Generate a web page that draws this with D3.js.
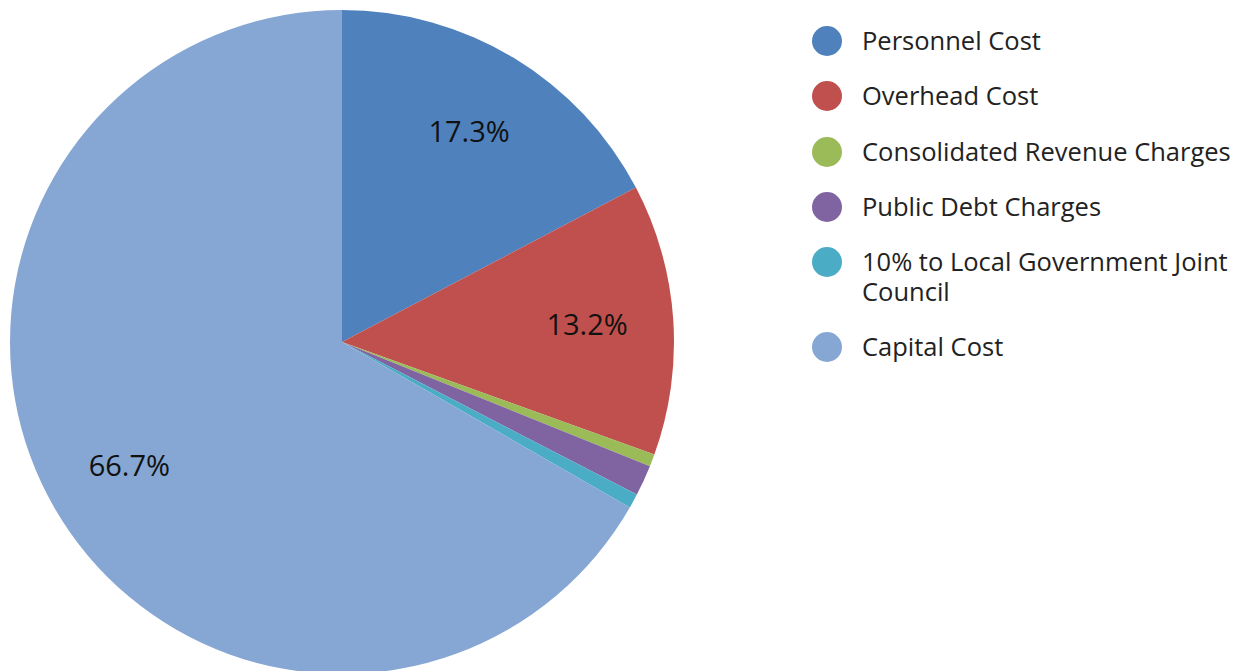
<!DOCTYPE html>
<html>
<head>
<meta charset="utf-8">
<script src="https://cdn.jsdelivr.net/npm/d3@7"></script>
<style>
  body { margin: 0; background: #fff; }
  text { font-family: "Open Sans", "Noto Sans", sans-serif; }
</style>
</head>
<body>
<svg width="1258" height="671"></svg>
<script>
// data
const categories = ["Personnel Cost", "Overhead Cost", "Consolidated Revenue Charges",
  "Public Debt Charges", "10% to Local Government Joint Council", "Capital Cost"];
const values = [17.3, 13.2, 0.6, 1.5, 0.7, 66.7];
const colors = ["#4f81bd", "#c0504d", "#9bbb59", "#8064a2", "#4bacc6", "#86a7d3"];
const shownLabels = ["17.3%", "13.2%", null, null, null, "66.7%"];
const legendLines = [["Personnel Cost"], ["Overhead Cost"], ["Consolidated Revenue Charges"],
  ["Public Debt Charges"], ["10% to Local Government Joint", "Council"], ["Capital Cost"]];

var svg = d3.select("svg"),
  cx = 342, cy = 342, radius = 332;

var g = svg.append("g").attr("transform", "translate(" + cx + "," + cy + ")");

var pie = d3.pie().sort(null).value(function(d) { return d; });
var arcs = pie(values);
var arc = d3.arc().innerRadius(0).outerRadius(radius);

g.selectAll("path")
  .data(arcs)
  .enter().append("path")
  .attr("d", arc)
  .attr("fill", function(d, i) { return colors[i]; });

// percent labels sit about 3/4 of the way out
var labelArc = d3.arc().innerRadius(radius * 0.74).outerRadius(radius * 0.74);
g.selectAll("text.pct")
  .data(arcs.filter(function(d, i) { return shownLabels[i]; }))
  .enter().append("text")
  .attr("class", "pct")
  .attr("transform", function(d) { return "translate(" + labelArc.centroid(d) + ")"; })
  .attr("text-anchor", "middle")
  .attr("dy", "0.36em")
  .attr("font-size", 29)
  .attr("fill", "#111")
  .text(function(d) { return shownLabels[d.index]; });

// legend
var legendY = [41, 96, 152, 207, 262, 347];
var legend = svg.append("g");
var item = legend.selectAll("g")
  .data(categories)
  .enter().append("g")
  .attr("transform", function(d, i) { return "translate(827," + legendY[i] + ")"; });

item.append("circle")
  .attr("r", 15)
  .attr("fill", function(d, i) { return colors[i]; });

// one text per line so wrapped entries stay separate
item.selectAll("text")
  .data(function(d, i) { return legendLines[i]; })
  .enter().append("text")
  .attr("x", 35)
  .attr("y", function(d, j) { return j * 30; })
  .attr("dy", "0.35em")
  .attr("font-size", 25.5)
  .attr("fill", "#222")
  .text(function(d) { return d; });
</script>
</body>
</html>
